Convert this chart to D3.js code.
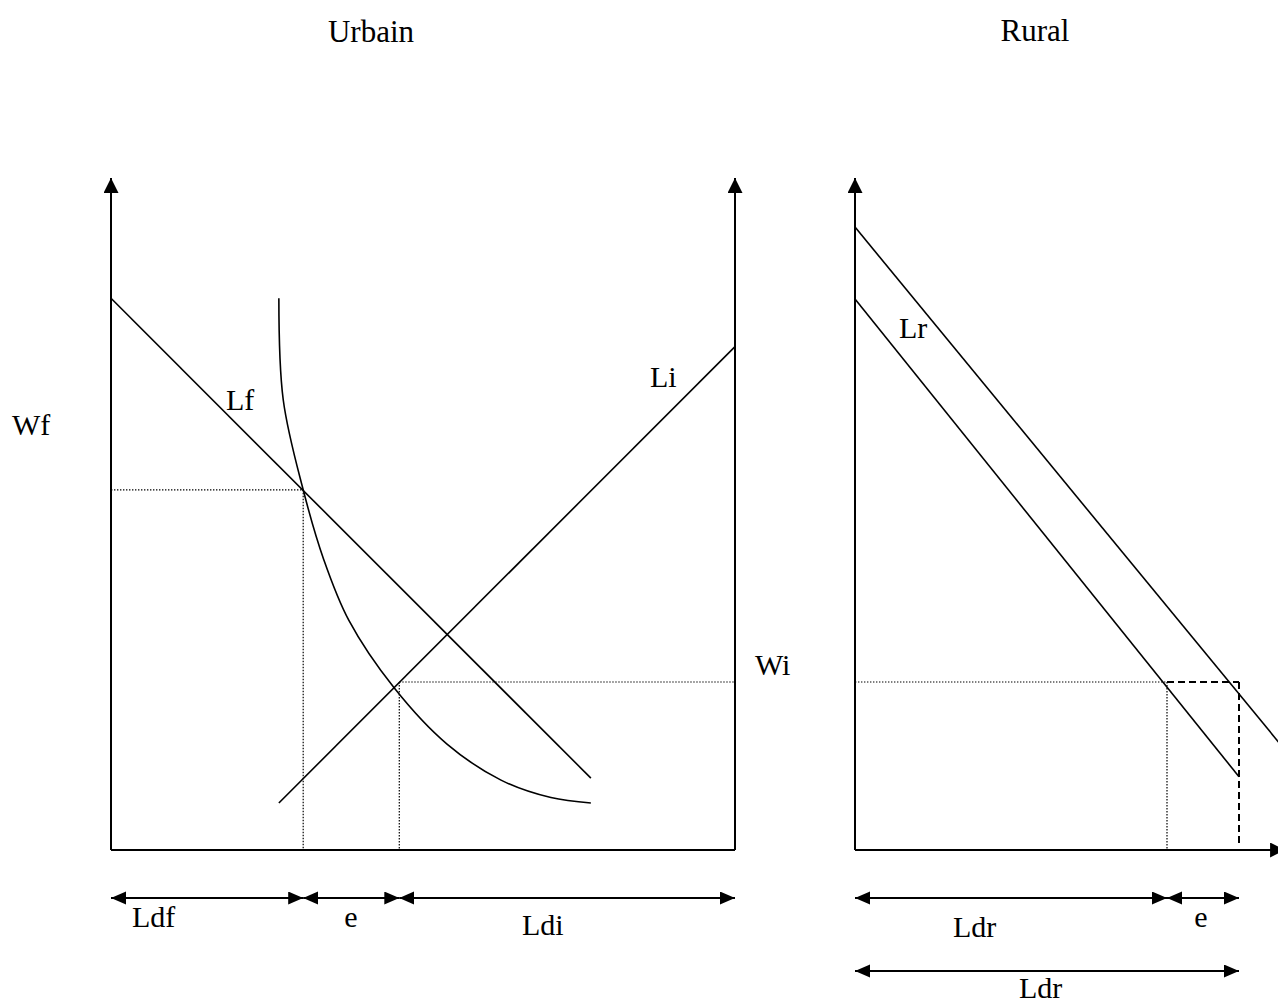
<!DOCTYPE html>
<html>
<head>
<meta charset="utf-8">
<script src="https://cdn.jsdelivr.net/npm/d3@7"></script>
<style>
  body { margin: 0; background: #fff; }
  svg { display: block; }
  text { font-family: "Liberation Serif", "Times New Roman", serif; fill: #000; }
</style>
</head>
<body>
<div id="chart"></div>
<script>
// values in abstract units: labour 0-100 along x, wage 0-100 along y
const titles = ['Urbain', 'Rural'];

// urban panel
const formalDemand = [[0, 82.1], [76.9, 10.7]];          // Lf
const informalSupply = [[26.9, 7.0], [100, 74.9]];       // Li
const hyperbola = [
  [26.9, 82.1], [27.6, 67.0], [30.8, 53.6], [34.1, 43.2], [38.1, 34.2],
  [45.4, 24.1], [53.8, 15.8], [62.5, 10.4], [70.5, 7.8], [76.9, 7.0]
];
const wageFormal = 53.6;   // Wf
const wageInformal = 25.0; // Wi
const urbanSplit = [0, 30.8, 46.2, 100];                 // Ldf | e | Ldi
const urbanSplitLabels = ['Ldf', 'e', 'Ldi'];

// rural panel
const ruralDemand = [[0, 82.0], [100, 10.9]];            // Lr
const ruralShifted = [[0, 92.7], [116, 12.1]];
const ruralSplit = [0, 81.25, 100];                      // Ldr | e
const ruralSplitLabels = ['Ldr', 'e'];
const ruralTotal = [0, 100];
const ruralTotalLabel = 'Ldr';

const width = 1278;
const height = 1003;

const svg = d3.select('#chart').append('svg')
  .attr('width', width)
  .attr('height', height);

const defs = svg.append('defs');
defs.append('marker')
  .attr('id', 'axis-head')
  .attr('markerUnits', 'userSpaceOnUse')
  .attr('markerWidth', 16).attr('markerHeight', 16)
  .attr('refX', 15).attr('refY', 7.5)
  .attr('orient', 'auto')
  .append('path').attr('d', 'M0,0 L15,7.5 L0,15 Z').attr('fill', '#000');
defs.append('marker')
  .attr('id', 'span-head')
  .attr('markerUnits', 'userSpaceOnUse')
  .attr('markerWidth', 16).attr('markerHeight', 14)
  .attr('refX', 15).attr('refY', 6.5)
  .attr('orient', 'auto-start-reverse')
  .append('path').attr('d', 'M0,0 L15,6.5 L0,13 Z').attr('fill', '#000');

// scales
const y = d3.scaleLinear().domain([0, 100]).range([850, 178]);
const xU = d3.scaleLinear().domain([0, 100]).range([111, 735]);
const xR = d3.scaleLinear().domain([0, 100]).range([855, 1239]);

const line = (sx) => d3.line().x(d => sx(d[0])).y(d => y(d[1]));

function seg(g, x1, y1, x2, y2, cls) {
  return g.append('line')
    .attr('x1', x1).attr('y1', y1).attr('x2', x2).attr('y2', y2)
    .attr('class', cls);
}

svg.append('style').text(`
  .axis { stroke: #000; stroke-width: 2; }
  .curve { fill: none; stroke: #000; stroke-width: 1.6; }
  .dot { stroke: #000; stroke-width: 1.2; stroke-dasharray: 1.4,1.6; }
  .dash { stroke: #000; stroke-width: 2; stroke-dasharray: 7,4; }
  .span { stroke: #000; stroke-width: 2; }
`);

const fs = 30;
function label(txt, px, py, anchor) {
  svg.append('text')
    .attr('x', px).attr('y', py)
    .attr('text-anchor', anchor || 'start')
    .attr('font-size', fs)
    .text(txt);
}

// titles
svg.append('text').attr('x', 371).attr('y', 42).attr('text-anchor', 'middle')
  .attr('font-size', 31).text(titles[0]);
svg.append('text').attr('x', 1035).attr('y', 41).attr('text-anchor', 'middle')
  .attr('font-size', 31).text(titles[1]);

// ---------- urban panel ----------
const $u = svg.append('g');
seg($u, xU(0), y(0), xU(0), y(100), 'axis').attr('marker-end', 'url(#axis-head)');
seg($u, xU(100), y(0), xU(100), y(100), 'axis').attr('marker-end', 'url(#axis-head)');
seg($u, xU(0), y(0), xU(100), y(0), 'axis');

// reference lines
seg($u, xU(0), y(wageFormal), xU(urbanSplit[1]), y(wageFormal), 'dot');
seg($u, xU(urbanSplit[1]), y(wageFormal), xU(urbanSplit[1]), y(0), 'dot');
seg($u, xU(urbanSplit[2]), y(wageInformal), xU(100), y(wageInformal), 'dot');
seg($u, xU(urbanSplit[2]), y(wageInformal), xU(urbanSplit[2]), y(0), 'dot');

$u.append('path').datum(formalDemand).attr('class', 'curve').attr('d', line(xU));
$u.append('path').datum(informalSupply).attr('class', 'curve').attr('d', line(xU));
$u.append('path').datum(hyperbola).attr('class', 'curve')
  .attr('d', line(xU).curve(d3.curveCatmullRom.alpha(0.5)));

// spans under the axis
d3.pairs(urbanSplit).forEach(([a, b]) => {
  seg($u, xU(a), 898, xU(b), 898, 'span')
    .attr('marker-start', 'url(#span-head)')
    .attr('marker-end', 'url(#span-head)');
});

label('Wf', 12, 435);
label('Lf', 226, 410);
label('Li', 650, 387);
label('Wi', 755, 675);
label(urbanSplitLabels[0], 132, 927);
label(urbanSplitLabels[1], 351, 927, 'middle');
label(urbanSplitLabels[2], 522, 935);

// ---------- rural panel ----------
const $r = svg.append('g');
seg($r, xR(0), y(0), xR(0), y(100), 'axis').attr('marker-end', 'url(#axis-head)');
seg($r, xR(0), y(0), xR(112), y(0), 'axis').attr('marker-end', 'url(#axis-head)');

seg($r, xR(0), y(wageInformal), xR(ruralSplit[1]), y(wageInformal), 'dot');
seg($r, xR(ruralSplit[1]), y(wageInformal), xR(ruralSplit[1]), y(0), 'dot');
seg($r, xR(ruralSplit[1]), y(wageInformal), xR(100), y(wageInformal), 'dash');
seg($r, xR(100), y(wageInformal), xR(100), y(0) - 4, 'dash');

$r.append('path').datum(ruralDemand).attr('class', 'curve').attr('d', line(xR));
$r.append('path').datum(ruralShifted).attr('class', 'curve').attr('d', line(xR));

d3.pairs(ruralSplit).forEach(([a, b]) => {
  seg($r, xR(a), 898, xR(b), 898, 'span')
    .attr('marker-start', 'url(#span-head)')
    .attr('marker-end', 'url(#span-head)');
});
seg($r, xR(ruralTotal[0]), 971, xR(ruralTotal[1]), 971, 'span')
  .attr('marker-start', 'url(#span-head)')
  .attr('marker-end', 'url(#span-head)');

label('Lr', 899, 338);
label(ruralSplitLabels[0], 953, 937);
label(ruralSplitLabels[1], 1201, 927, 'middle');
label(ruralTotalLabel, 1019, 998);
</script>
</body>
</html>
